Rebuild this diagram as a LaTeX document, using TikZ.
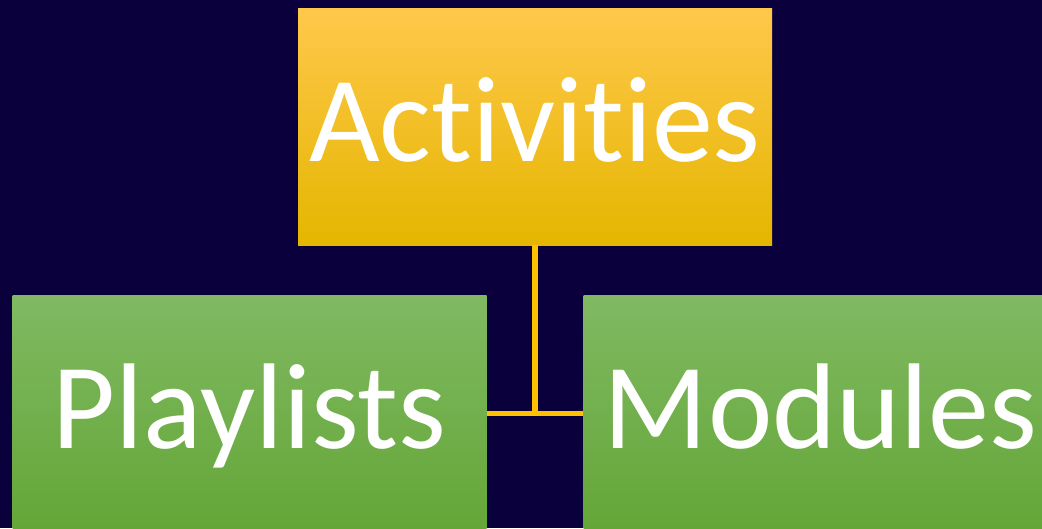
\documentclass[tikz,border=0pt]{standalone}
\usepackage{xcolor}
\usepackage{fontspec}
\setmainfont{Carlito}[Ligatures={NoCommon}]
\usepackage{tikz}
\usetikzlibrary{calc}
\definecolor{bgNavy}{RGB}{10,0,60}
\definecolor{actTop}{RGB}{255,200,75}
\definecolor{actMid}{RGB}{255,200,0}
\definecolor{actBot}{RGB}{228,182,0}
\definecolor{grTop}{RGB}{128,185,98}
\definecolor{grBot}{RGB}{100,166,55}
\definecolor{linkCol}{RGB}{255,192,0}

\begin{document}
\begin{tikzpicture}[x=1pt,y=1pt]
		\fill[bgNavy] (0,0) rectangle (1042,-528);
		\useasboundingbox (0,0) rectangle (1042,-528);
		\clip (0,0) rectangle (1042,-528);

		\begin{scope}[every node/.style={rectangle,minimum width=474pt,minimum height=237pt,inner sep=0pt,text=white,font=\fontsize{122}{122}\selectfont,text height=80pt,text depth=11pt}]
		\node[top color=actTop,middle color=actMid,bottom color=actBot] (Act) at (535,-126.5) {Activities};
		\node[top color=grTop,bottom color=grBot] (Play) at (249.5,-413.5) {Playlists};
		\node[top color=grTop,bottom color=grBot] (Mod) at (820.5,-413.5) {Modules};
		\end{scope}

		\begin{scope}[every path/.style={draw=linkCol,line width=5.5pt}]
		\coordinate (J) at (Act.south |- Play.east);
		\path (Act.south) -- (J);
		\path (Play.east) -- (Mod.west);
		\end{scope}
		\end{tikzpicture}
\end{document}
